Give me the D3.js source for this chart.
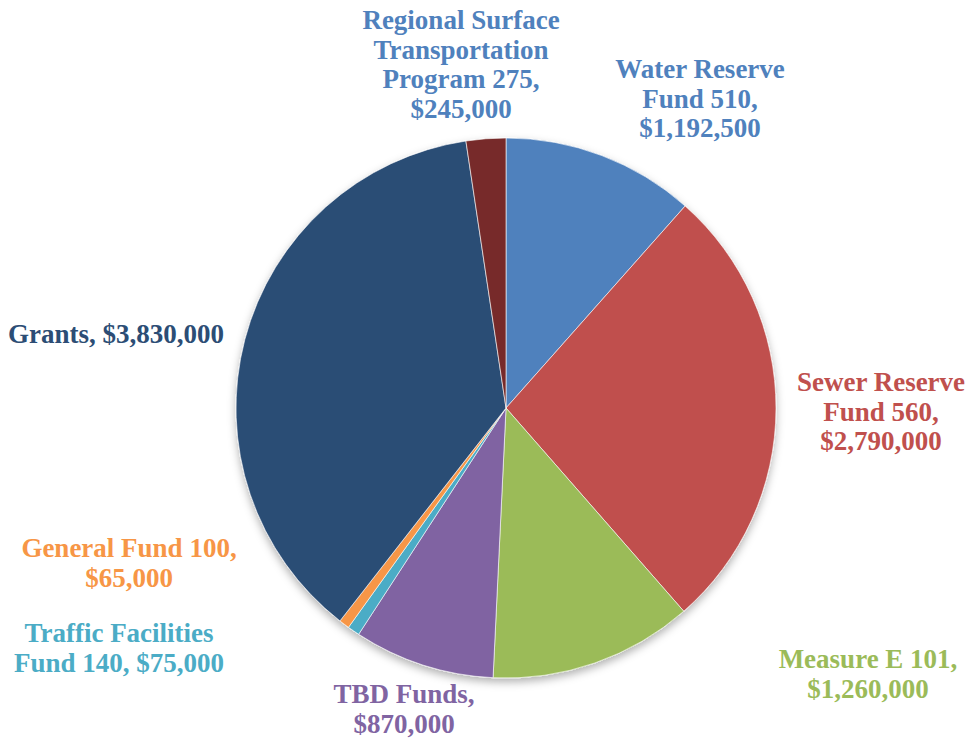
<!DOCTYPE html>
<html>
<head>
<meta charset="utf-8">
<script src="https://cdn.jsdelivr.net/npm/d3@7"></script>
<style>
  body { margin: 0; background: #fff; }
  text { font-family: "Liberation Serif", "Times New Roman", serif; font-weight: bold; }
</style>
</head>
<body>
<div id="chart"></div>
<script>
// data, clockwise from 12 o'clock
var categories = ["Water Reserve Fund 510", "Sewer Reserve Fund 560", "Measure E 101", "TBD Funds",
    "Traffic Facilities Fund 140", "General Fund 100", "Grants", "Regional Surface Transportation Program 275"];
var values = [1192500, 2790000, 1260000, 870000, 75000, 65000, 3830000, 245000];
var sliceColors = ["#4F81BD", "#C0504D", "#9BBB59", "#8064A2", "#4BACC6", "#F79646", "#2C4D75", "#772C2A"];
var labelColors = ["#4F81BD", "#C0504D", "#9BBB59", "#8064A2", "#4BACC6", "#F79646", "#2C4D75", "#4F81BD"];
// how each label is broken into lines
var labelLines = [
    ["Water Reserve", "Fund 510,", "$1,192,500"],
    ["Sewer Reserve", "Fund 560,", "$2,790,000"],
    ["Measure E 101,", "$1,260,000"],
    ["TBD Funds,", "$870,000"],
    ["Traffic Facilities", "Fund 140, $75,000"],
    ["General Fund 100,", "$65,000"],
    ["Grants, $3,830,000"],
    ["Regional Surface", "Transportation", "Program 275,", "$245,000"]
];

const config = {
    width: 969,
    height: 742,
    cx: 506,
    cy: 408,
    radius: 270,
    fontSize: 27,
    lineHeight: 29.5
}
// label anchor (centre of first line baseline)
var labelPos = [
    [700, 78], [881, 391], [868, 668], [404, 703],
    [119, 642], [129, 557], [116, 343], [461, 29]
];

var svg = d3.select('#chart').append('svg')
    .attr('width', config.width)
    .attr('height', config.height)

var defs = svg.append('defs')
var f = defs.append('filter').attr('id', 'shadow')
    .attr('x', '-20%').attr('y', '-20%').attr('width', '140%').attr('height', '140%')
f.append('feDropShadow')
    .attr('dx', 0).attr('dy', 4).attr('stdDeviation', 4)
    .attr('flood-color', '#000').attr('flood-opacity', 0.3)

var pie = d3.pie().sort(null).value(d => d)
var arc = d3.arc().innerRadius(0).outerRadius(config.radius)

var g = svg.append('g')
    .attr('transform', 'translate(' + config.cx + ',' + config.cy + ')')
    .attr('filter', 'url(#shadow)')

g.selectAll('path')
    .data(pie(values))
    .enter()
    .append('path')
    .attr('d', arc)
    .attr('fill', (d, i) => sliceColors[i])
    .attr('stroke', '#fff')
    .attr('stroke-width', 0.6)

var labels = svg.append('g').selectAll('text')
    .data(categories)
    .enter()
    .append('text')
    .attr('text-anchor', 'middle')
    .attr('font-size', config.fontSize)
    .attr('fill', (d, i) => labelColors[i])
    .attr('transform', (d, i) => 'translate(' + labelPos[i][0] + ',' + labelPos[i][1] + ')')

labels.selectAll('tspan')
    .data((d, i) => labelLines[i])
    .enter()
    .append('tspan')
    .attr('x', 0)
    .attr('y', (d, j) => j * config.lineHeight)
    .text(d => d)
</script>
</body>
</html>
